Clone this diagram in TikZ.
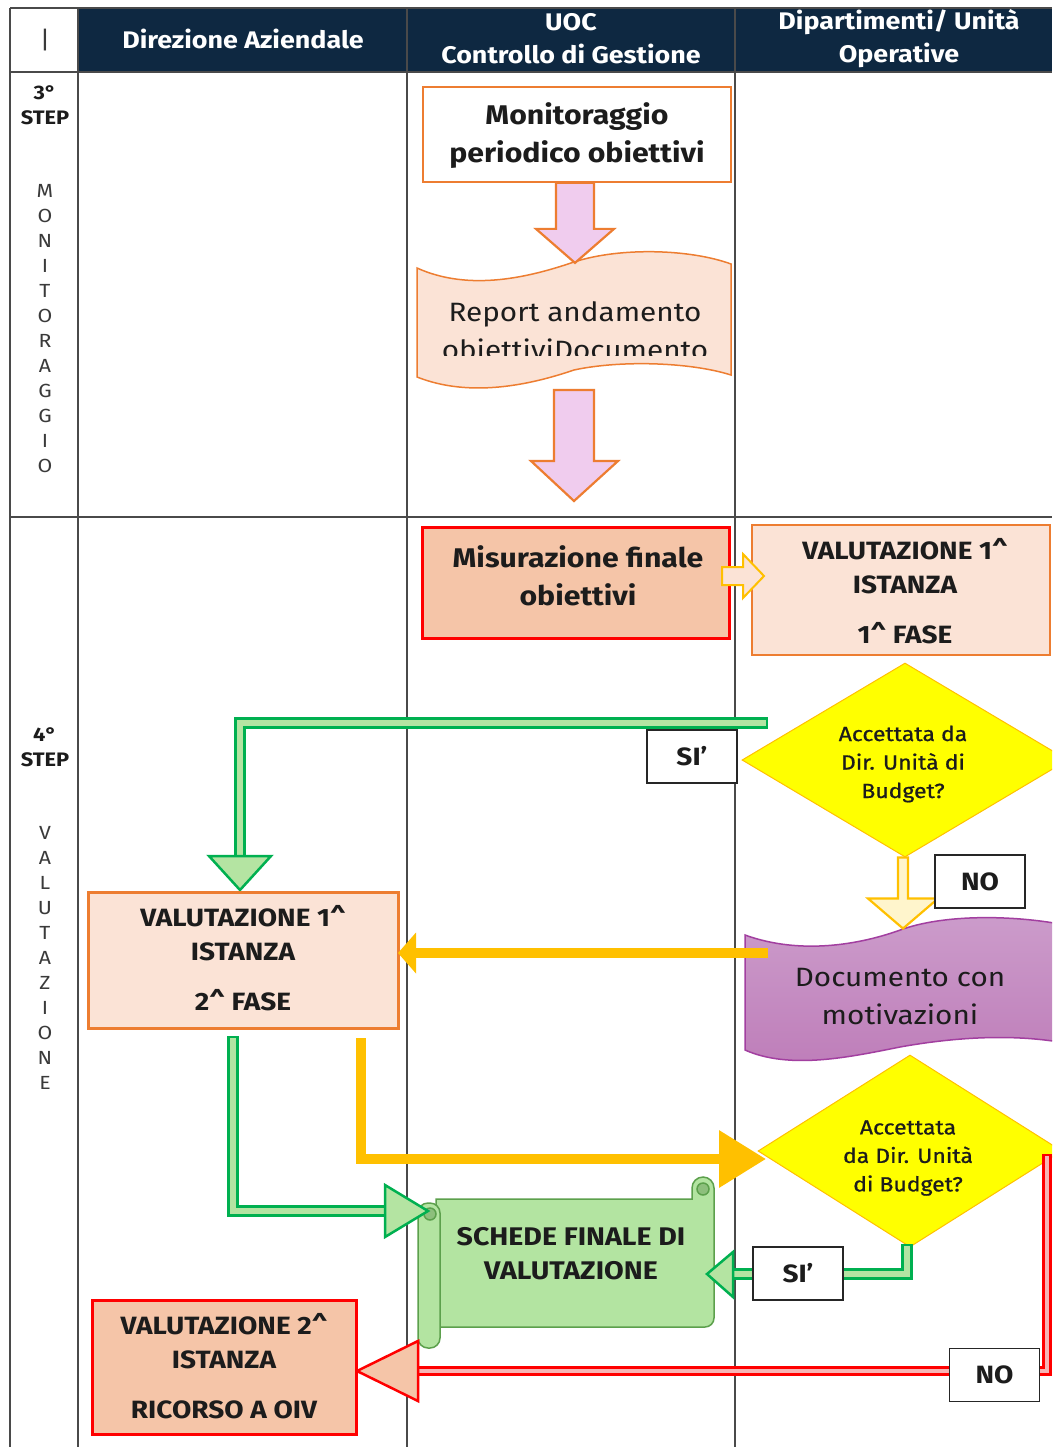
\documentclass[tikz,border=0pt]{standalone}
\usepackage{fontspec}
\setmainfont{Fira Sans}[FakeStretch=1.12]
\newfontfamily\medf{Fira Sans}[FakeStretch=1.12, FakeBold=0.8]
\usetikzlibrary{shapes.geometric,arrows.meta}
\definecolor{navy}{HTML}{0E2841}
\definecolor{laneGray}{HTML}{4A4A4A}
\definecolor{oBorder}{HTML}{ED7D31}
\definecolor{peach}{HTML}{FBE3D6}
\definecolor{salmon}{HTML}{F5C5A8}
\definecolor{redB}{HTML}{FF0000}
\definecolor{pinkF}{HTML}{F0CCEE}
\definecolor{yel}{HTML}{FFFF00}
\definecolor{gold}{HTML}{FFC000}
\definecolor{paleY}{HTML}{FFF5CC}
\definecolor{gGreen}{HTML}{00B050}
\definecolor{gLight}{HTML}{B4E4A2}
\definecolor{scrollF}{HTML}{B3E4A1}
\definecolor{scrollB}{HTML}{5CA04C}
\definecolor{curl}{HTML}{8DBF7C}
\definecolor{purpT}{HTML}{CC9CCB}
\definecolor{purpBot}{HTML}{BE7DB9}
\definecolor{purpB}{HTML}{A23FA0}
\definecolor{pinkIn}{HTML}{F7B5B5}
\definecolor{txt}{HTML}{1C1C1C}
\definecolor{lettr}{HTML}{3A3A3A}
\tikzset{
  lane/.style={draw=laneGray, line width=1.6},
  hdrtxt/.style={text=white, align=center, font=\bfseries\fontsize{24}{33}\selectfont},
  stepf/.style={align=center, font=\bfseries\fontsize{19.5}{25}\selectfont},
  vword/.style={align=center, text=lettr, font=\fontsize{19}{25}\selectfont},
  bigb/.style={align=center, font=\bfseries\fontsize{27}{38}\selectfont},
  regt/.style={align=center, font=\fontsize{26.5}{38}\selectfont},
  boxt/.style={align=center, font=\bfseries\fontsize{25}{34}\selectfont},
  boxtb/.style={align=center, font=\bfseries\fontsize{25.5}{34}\selectfont},
  dtxt/.style={align=center, font=\medf\fontsize{20.5}{28.5}\selectfont},
  lbl/.style={draw=black!85, line width=1.3, fill=white, minimum width=90, minimum height=53, font=\bfseries\fontsize{25}{28}\selectfont},
  pinkarr/.style={draw=oBorder, fill=pinkF, line width=2.2, line join=miter},
  smallarr/.style={draw=gold, fill=peach, line width=2, line join=miter},
  yarr/.style={draw=gold, fill=paleY, line width=2.2, line join=miter},
  gdbl/.style={draw=gGreen, line width=3, double=gLight, double distance=6, line join=miter},
  gcap/.style={draw=gGreen, line width=2.5},
  ghead/.style={draw=gGreen, fill=gLight, line width=2.5, line join=miter},
  rdbl/.style={draw=redB, line width=3, double=pinkIn, double distance=4, line join=miter},
  rhead/.style={draw=redB, fill=salmon, line width=2.5, line join=miter},
  yline/.style={draw=gold, line width=10, line join=miter},
  scrollst/.style={draw=scrollB, fill=scrollF, line width=1.5},
  dmd/.style={diamond, draw=gold, line width=1, fill=yel},
}
\begin{document}
\begin{tikzpicture}[x=1pt,y=-1pt, every node/.style={text=txt, inner sep=0}]
\clip (0,0) rectangle (1052,1447);
\fill[white] (0,0) rectangle (1052,1447);
% header
\fill[navy] (78,8) rectangle (1052,72);
\draw[lane] (10,8) -- (1052,8);
\draw[lane] (10,8) -- (10,1447);
\draw[lane] (78,8) -- (78,1447);
\draw[lane] (407,8) -- (407,1447);
\draw[lane] (735,8) -- (735,1447);
\draw[lane] (10,72) -- (1052,72);
\draw[lane] (10,517) -- (1052,517);
\node[font=\fontsize{24}{28}\selectfont, text=lettr] (h0) at (45,40) {|};
\node[hdrtxt] (h1) at (243,39) {Direzione Aziendale};
\node[hdrtxt] (h2) at (571,39) {UOC\\Controllo di Gestione};
\node[hdrtxt] (h3) at (899,39) {Dipartimenti/ Unità\\Operative};
% left column
\node[stepf] (s3) at (45,105) {3°\\STEP};
\node[vword] (w1) at (45,329) {M\\O\\N\\I\\T\\O\\R\\A\\G\\G\\I\\O};
\node[stepf] (s4) at (45,747) {4°\\STEP};
\node[vword] (w2) at (45,958) {V\\A\\L\\U\\T\\A\\Z\\I\\O\\N\\E};
% step 3
\node[draw=oBorder, line width=1.8, fill=white, minimum width=308, minimum height=95] (mon) at (577,134.5) {};
\node[bigb] (mont) at (577,136) {Monitoraggio\\periodico obiettivi};
\draw[draw=oBorder, fill=peach, line width=1.5] (417,268) .. controls (470,292) and (530,277) .. (574,262) .. controls (620,247) and (690,249) .. (731,264) -- (731,375) .. controls (690,362) and (620,360) .. (574,370) .. controls (530,385) and (470,398) .. (417,377) -- cycle;
\begin{scope}
\clip (400,250) rectangle (740,355);
\node[regt] (rep) at (575,331) {Report andamento\\obiettiviDocumento};
\end{scope}
\draw[pinkarr] (mon.south) ++(-21,0) -- ++(38,0) -- ++(0,46) -- ++(20,0) -- ++(-39,34) -- ++(-39,-34) -- ++(20,0) -- cycle;
\coordinate (a2s) at (574,390);
\draw[pinkarr] (a2s) ++(-20,0) -- ++(40,0) -- ++(0,71) -- ++(24,0) -- ++(-44,40) -- ++(-43,-40) -- ++(23,0) -- cycle;
% step 4
\node[draw=redB, line width=3, fill=salmon, minimum width=307, minimum height=111] (mis) at (575.5,582.5) {};
\node[bigb] (mist) at (578,576) {Misurazione finale\\obiettivi};
\node[draw=oBorder, line width=2.5, fill=peach, minimum width=298, minimum height=130] (v1) at (901,590) {};
\node[boxt] (v1t) at (905,591) {VALUTAZIONE 1\textasciicircum\\ISTANZA\\[16pt]1\textasciicircum{} FASE};
\coordinate (sa) at (722,576);
\draw[smallarr] (sa) ++(0,-9) -- ++(21,0) -- ++(0,-13) -- ++(21,22) -- ++(-21,22) -- ++(0,-13) -- ++(-21,0) -- cycle;
% diamond 1
\node[dmd, minimum width=326, minimum height=194] (d1) at (905,760) {};
\node[dtxt] (d1t) at (903,764) {Accettata da\\Dir. Unità di\\Budget?};
\coordinate (g1s) at (767,723);
\coordinate (g1e) at (240,856);
\draw[gdbl] (g1s) -| (g1e);
\draw[gcap] (g1s) ++(0,-6) -- ++(0,12);
\draw[ghead] (g1e) ++(-31,0) -- ++(62,0) -- ++(-31,34) -- cycle;
\node[lbl] (si1) at (692,756.5) {SI’};
% documento
\path[draw=purpB, line width=1.5, top color=purpT, bottom color=purpBot] (745,935) .. controls (800,955) and (860,945) .. (903,929) .. controls (950,913) and (1020,916) .. (1065,925) -- (1065,1043) .. controls (1010,1033) and (950,1038) .. (900,1047) .. controls (850,1057) and (790,1070) .. (745,1050) -- cycle;
\node[regt] (doct) at (900,997) {Documento con\\motivazioni};
\draw[yarr] (d1.south) ++(-7,0) -- ++(10,0) -- ++(0,41) -- ++(30,0) -- ++(-35,30) -- ++(-35,-30) -- ++(30,0) -- cycle;
\node[lbl] (no1) at (980,881.5) {NO};
% valutazione 2^ fase
\node[draw=oBorder, line width=3, fill=peach, minimum width=310, minimum height=136] (v2) at (243,960) {};
\node[boxt] (v2t) at (243,958) {VALUTAZIONE 1\textasciicircum\\ISTANZA\\[16pt]2\textasciicircum{} FASE};
\coordinate (ys) at (768,953);
\coordinate (ye) at (398,953);
\draw[yline, -{Triangle[length=18pt,width=40pt]}] (ys) -- (ye);
% scroll
\draw[scrollst] (436,1199) -- (692,1199) -- (692,1188) arc[start angle=180,end angle=360,radius=11] -- (714,1318) arc[start angle=0,end angle=90,radius=9] -- (436,1327) -- cycle;
\draw[scrollst, fill=curl] (703,1189) circle[radius=6];
\draw[scrollst, rounded corners=10] (418,1203) rectangle (440,1348);
\draw[scrollst, fill=curl] (430,1214) circle[radius=6];
\node[boxtb] (sch) at (571,1254) {SCHEDE FINALE DI\\VALUTAZIONE};
% green 2
\coordinate (g2s) at (233,1037);
\coordinate (g2e) at (385,1211);
\draw[gdbl] (g2s) |- (g2e);
\draw[gcap] (g2s) ++(-6,0) -- ++(12,0);
\draw[ghead] (g2e) ++(0,-26) -- ++(43,26) -- ++(-43,26) -- cycle;
% yellow 2
\coordinate (y2s) at (361,1038);
\coordinate (y2e) at (766,1159);
\draw[yline, -{Triangle[length=47pt,width=55pt]}] (y2s) |- (y2e);
% diamond 2
\node[dmd, minimum width=304, minimum height=192] (d2) at (910,1151) {};
\node[dtxt] (d2t) at (908,1158) {Accettata\\da Dir. Unità\\di Budget?};
\coordinate (g3s) at (907,1245);
\coordinate (g3e) at (733,1274);
\draw[gdbl] (g3s) |- (g3e);
\draw[gcap] (g3s) ++(-6,0) -- ++(12,0);
\draw[ghead] (g3e) ++(0,-22) -- ++(0,45) -- ++(-26,-23) -- cycle;
\node[lbl] (si2) at (798,1273.5) {SI’};
% red
\coordinate (rs) at (1047,1155);
\coordinate (re) at (418,1371);
\draw[rdbl] (rs) |- (re);
\draw[draw=redB, line width=2.5] (rs) ++(-5,0) -- ++(10,0);
\draw[rhead] (re) ++(0,-30) -- ++(0,60) -- ++(-61,-30) -- cycle;
\node[lbl] (no2) at (994.5,1375) {NO};
\node[draw=redB, line width=3, fill=salmon, minimum width=264, minimum height=134] (v3) at (224,1367) {};
\node[boxt] (v3t) at (224,1366) {VALUTAZIONE 2\textasciicircum\\ISTANZA\\[16pt]RICORSO A OIV};
\end{tikzpicture}
\end{document}
